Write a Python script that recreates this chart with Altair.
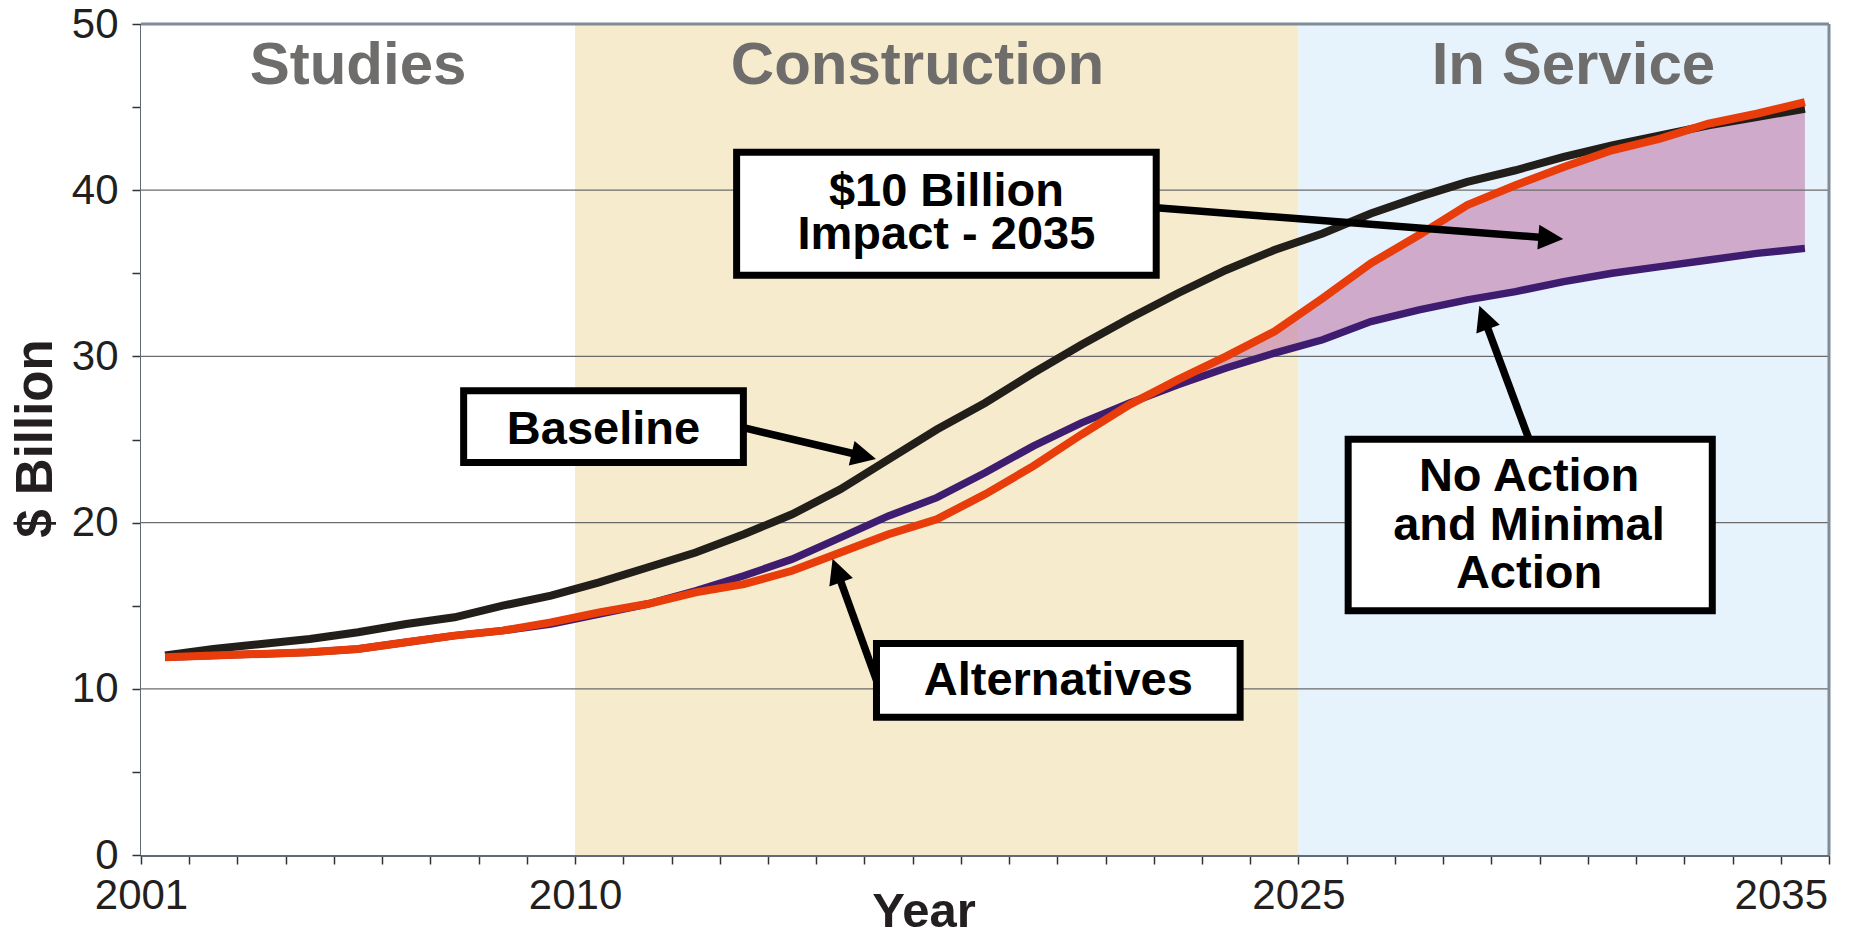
import math
import altair as alt
import pandas as pd

# ---------------- data ----------------
years = list(range(2001, 2036))
baseline = [12.0, 12.4, 12.7, 13.0, 13.4, 13.9, 14.3, 15.0, 15.6, 16.4,
            17.3, 18.2, 19.3, 20.5, 22.0, 23.8, 25.6, 27.2, 29.0, 30.7,
            32.3, 33.8, 35.2, 36.4, 37.4, 38.6, 39.6, 40.5, 41.2, 42.0,
            42.7, 43.3, 43.9, 44.4, 44.9]
alternatives = [11.9, 12.0, 12.1, 12.2, 12.4, 12.8, 13.2, 13.5, 14.0, 14.6,
                15.1, 15.8, 16.3, 17.1, 18.2, 19.3, 20.2, 21.7, 23.4, 25.3,
                27.1, 28.6, 30.0, 31.5, 33.5, 35.6, 37.3, 39.1, 40.3, 41.4,
                42.4, 43.1, 44.0, 44.6, 45.3]
no_action = [11.9, 12.0, 12.1, 12.2, 12.4, 12.8, 13.2, 13.5, 13.9, 14.5,
             15.1, 15.9, 16.8, 17.8, 19.1, 20.4, 21.5, 23.0, 24.6, 26.0,
             27.2, 28.3, 29.3, 30.2, 31.0, 32.1, 32.8, 33.4, 33.9, 34.5,
             35.0, 35.4, 35.8, 36.2, 36.5]
impact_from_year = 2022

phase_names = ["Studies", "Construction", "In Service"]
phase_first_year = [2001, 2010, 2025]
phase_last_year = [2009, 2024, 2035]
phase_label_x = [2005.0, 2016.6, 2030.2]
phase_label_y = [46.4, 46.4, 46.4]

labeled_years = [2001, 2010, 2025, 2035]
y_grid = [10, 20, 30, 40]
y_ticks = list(range(0, 51, 5))

# annotation boxes (data units)
box_x1 = [2012.85, 2007.19, 2015.75, 2025.53]
box_x2 = [2021.55, 2012.99, 2023.29, 2033.08]
box_y1 = [34.89, 23.61, 8.29, 14.70]
box_y2 = [42.28, 27.94, 12.73, 25.01]

text_lines = ["$10 Billion", "Impact - 2035", "Baseline", "Alternatives",
              "No Action", "and Minimal", "Action"]
text_x = [2017.2, 2017.2, 2010.09, 2019.52, 2029.28, 2029.28, 2029.28]
text_y = [39.06, 36.45, 24.75, 9.61, 21.93, 18.97, 16.06]

arrow_tail_x = [2021.55, 2012.99, 2015.75, 2029.28]
arrow_tail_y = [38.94, 25.71, 10.51, 25.01]
arrow_tip_x = [2029.99, 2015.74, 2014.84, 2028.25]
arrow_tip_y = [37.06, 23.83, 17.82, 33.05]

# ---------------- geometry / style ----------------
W, H = 1688, 831
X0, X1 = 2000.5, 2035.5
Y0, Y1 = 0, 50
ppx = W / (X1 - X0)
ppy = H / (Y1 - Y0)

FONT = "Liberation Sans"
TXT = "#231f20"

xscale = alt.Scale(domain=[X0, X1], nice=False, zero=False)
yscale = alt.Scale(domain=[Y0, Y1], nice=False, zero=False)

label_list = ",".join(str(y) for y in labeled_years)
x_axis = alt.Axis(
    values=[y - 0.5 for y in range(years[0], years[-1] + 2)],
    labelExpr=f"indexof([{label_list}], datum.value + 0.5) >= 0 ? format(datum.value + 0.5, 'd') : ''",
    title="Year", grid=False, tickSize=9, tickWidth=1.5, tickColor="#333333",
    domainColor="#5f6b76", domainWidth=3,
    labelFontSize=42, labelPadding=11, labelFlush=False, labelOverlap=False,
    labelColor=TXT, labelFont=FONT,
    titleFontSize=49, titleFontWeight="bold", titleColor=TXT, titleFont=FONT,
    titleX=782.5, titleY=71, titleBaseline="alphabetic", titleAlign="center",
)
y_axis = alt.Axis(
    values=y_ticks,
    labelExpr="datum.value % 10 == 0 ? datum.label : ''",
    title="$ Billion", grid=False, tickSize=9, tickWidth=1.5, tickColor="#333333",
    domainColor="#5f6b76", domainWidth=3,
    labelFontSize=42, labelPadding=14, labelOverlap=False, labelColor=TXT,
    labelFont=FONT,
    titleFontSize=51, titleFontWeight="bold", titleColor=TXT, titleFont=FONT,
    titleX=-89.8, titleY=414, titleBaseline="alphabetic", titleAlign="center",
    titleAngle=270,
)


def X(field):
    return alt.X(field, type="quantitative", scale=xscale, axis=x_axis)


def Y(field):
    return alt.Y(field, type="quantitative", scale=yscale, axis=y_axis)


series = pd.DataFrame({"year": years, "baseline": baseline,
                       "alternatives": alternatives, "no_action": no_action})

phases = pd.DataFrame({"name": phase_names, "first": phase_first_year,
                       "last": phase_last_year})
phase_labels = pd.DataFrame({"name": phase_names, "x": phase_label_x,
                             "y": phase_label_y})

boxes = pd.DataFrame({"x1": box_x1, "x2": box_x2, "y1": box_y1, "y2": box_y2})
texts = pd.DataFrame({"t": text_lines, "x": text_x, "y": text_y})

head_len = 25.0
rows = []
for tx, ty, hx, hy in zip(arrow_tail_x, arrow_tail_y, arrow_tip_x, arrow_tip_y):
    dx = (hx - tx) * ppx
    dy = -(hy - ty) * ppy
    L = math.hypot(dx, dy)
    ang = math.degrees(math.atan2(dx, -dy)) % 360
    back = head_len * 0.6
    ex = hx - dx / L * back / ppx
    ey = hy + dy / L * back / ppy
    rows.append({"tx": tx, "ty": ty, "hx": hx, "hy": hy, "ex": ex, "ey": ey,
                 "angle": ang})
arrows = pd.DataFrame(rows)

grid_df = pd.DataFrame({"v": y_grid})
top_df = pd.DataFrame({"v": [Y1]})
right_df = pd.DataFrame({"v": [X1]})

regions = alt.Chart(phases).transform_calculate(
    x1="datum.first - 0.5", x2="datum.last + 0.5"
).mark_rect().encode(
    x=X("x1:Q"), x2="x2:Q",
    color=alt.Color("name:N", scale=alt.Scale(domain=phase_names,
                    range=["#ffffff", "#f6ebcc", "#e6f3fc"]), legend=None),
)

impact = alt.Chart(series).transform_filter(
    alt.datum.year >= impact_from_year
).mark_area(color="#c179aa", opacity=0.6).encode(
    x=X("year"), y=Y("no_action"), y2="alternatives")

grid = alt.Chart(grid_df).mark_rule(color="#6b6b6b", strokeWidth=1.3).encode(
    y=Y("v"))
top_border = alt.Chart(top_df).mark_rule(color="#7f8b97", strokeWidth=3).encode(
    y=Y("v"))
right_border = alt.Chart(right_df).mark_rule(color="#7f8b97", strokeWidth=3).encode(
    x=X("v"))

line_na = alt.Chart(series).mark_line(color="#3e1c6f", strokeWidth=7.5).encode(
    x=X("year"), y=Y("no_action"))
line_base = alt.Chart(series).mark_line(color="#221e1a", strokeWidth=8).encode(
    x=X("year"), y=Y("baseline"))
line_alt = alt.Chart(series).mark_line(color="#e83c0a", strokeWidth=8).encode(
    x=X("year"), y=Y("alternatives"))

ph_text = alt.Chart(phase_labels).mark_text(
    font=FONT, fontSize=60, fontWeight="bold", color="#6e6d6b",
    align="center", baseline="alphabetic").encode(
    x=X("x"), y=Y("y"), text="name:N")

shafts = alt.Chart(arrows).mark_rule(color="black", strokeWidth=7.5,
                                     strokeCap="butt").encode(
    x=X("tx"), y=Y("ty"), x2="ex", y2="ey")
heads = alt.Chart(arrows).mark_point(
    shape="M0,0L-0.5,1L0.5,1Z", filled=True, color="black", opacity=1,
    size=(2 * head_len) ** 2, strokeWidth=0).encode(
    x=X("hx"), y=Y("hy"), angle=alt.Angle("angle:Q", scale=None))

box_rects = alt.Chart(boxes).mark_rect(fill="white", stroke="black",
                                       strokeWidth=7).encode(
    x=X("x1"), x2="x2", y=Y("y1"), y2="y2")
box_text = alt.Chart(texts).mark_text(
    font=FONT, fontSize=47, fontWeight="bold", color="black",
    align="center", baseline="alphabetic").encode(
    x=X("x"), y=Y("y"), text="t:N")

chart = alt.layer(
    regions, impact, grid, top_border, right_border,
    line_na, line_base, line_alt, ph_text,
    shafts, heads, box_rects, box_text,
).properties(
    width=W, height=H,
    padding={"left": 133, "top": 16, "right": 11, "bottom": 72},
    autosize=alt.AutoSizeParams(type="none"),
).configure_view(stroke=None).configure(font=FONT)

chart.save("out.html", embed_options={"renderer": "svg", "actions": False})
